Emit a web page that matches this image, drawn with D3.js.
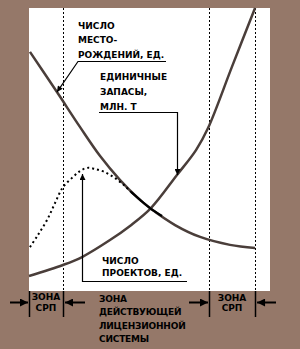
<!DOCTYPE html>
<html><head><meta charset="utf-8">
<script src="https://cdn.jsdelivr.net/npm/d3@7"></script>
<style>
html,body{margin:0;padding:0;background:#957869;}
svg{display:block;}
text{font-family:"DejaVu Sans",sans-serif;font-weight:bold;font-size:9px;fill:#000;}
</style></head>
<body>
<script>
// Data (x: 0..100 time axis, y: 0..100 relative level)
const depositsX = [0.4, 11.6, 21.2, 29.5, 37.8, 44.8, 50.2, 60.6, 71.0, 83.4, 93.8];
const depositsY = [84.5, 70.3, 57.9, 47.7, 39.2, 33.2, 29.3, 23.3, 19.1, 16.3, 15.2];
const reservesX = [0, 14.1, 22.0, 33.6, 41.9, 50.6, 61.4, 69.3, 74.3, 84.2, 93.8];
const reservesY = [5.3, 9.2, 12.0, 18.0, 23.0, 29.3, 41.0, 49.8, 57.6, 79.2, 100];
const projectsX = [0.4, 3.7, 7.5, 10.8, 14.1, 18.3, 21.2, 24.1, 27.4, 31.5, 35.7, 39.8, 42.3];
const projectsY = [15.5, 19.8, 25.1, 31.1, 36.7, 40.3, 42.4, 43.5, 43.1, 42.0, 39.9, 37.1, 35.0];
const mergeX = [42.3, 46.1, 50.2, 55.2];
const mergeY = [35.0, 32.2, 29.3, 26.5];
const zoneBounds = [0, 14.1, 74.7, 93.8];
const labelDeposits = ["ЧИСЛО", "МЕСТО-", "РОЖДЕНИЙ, ЕД."];
const labelReserves = ["ЕДИНИЧНЫЕ", "ЗАПАСЫ,", "МЛН. Т"];
const labelProjects = ["ЧИСЛО", "ПРОЕКТОВ, ЕД."];
const zoneSrp = ["ЗОНА", "СРП"];
const zoneLicense = ["ЗОНА", "ДЕЙСТВУЮЩЕЙ", "ЛИЦЕНЗИОННОЙ", "СИСТЕМЫ"];

const W = 300, H = 349;
const L = 29, R = 270, T = 8, B = 291;
const x = d3.scaleLinear().domain([0, 100]).range([L, R]);
const y = d3.scaleLinear().domain([0, 100]).range([B, T]);

const svg = d3.select("body").append("svg").attr("width", W).attr("height", H);
const defs = svg.append("defs");
function marker(id, w, h) {
  defs.append("marker").attr("id", id).attr("viewBox", "0 0 10 10")
    .attr("refX", 10).attr("refY", 5).attr("markerWidth", w).attr("markerHeight", h)
    .attr("markerUnits", "userSpaceOnUse").attr("orient", "auto")
    .append("path").attr("d", "M0,0L10,5L0,10Z").attr("fill", "#000");
}
marker("ah", 7, 6);
marker("ahb", 9, 8);

svg.append("rect").attr("x", L).attr("y", T).attr("width", R - L).attr("height", B - T).attr("fill", "#fff");

// vertical dotted zone lines
svg.selectAll(".zl").data(zoneBounds.slice(1)).enter().append("line")
  .attr("x1", d => Math.round(x(d)) + 0.5).attr("x2", d => Math.round(x(d)) + 0.5)
  .attr("y1", T).attr("y2", B).attr("stroke", "#000").attr("stroke-width", 1)
  .attr("stroke-dasharray", "2,2");

// ticks below
svg.selectAll(".tk").data(zoneBounds).enter().append("line")
  .attr("x1", d => Math.round(x(d)) + 0.5).attr("x2", d => Math.round(x(d)) + 0.5)
  .attr("y1", B).attr("y2", 317).attr("stroke", "#000").attr("stroke-width", 1.5);

const line = d3.line().x(d => x(d[0])).y(d => y(d[1])).curve(d3.curveCatmullRom.alpha(0.5));
const curveColor = "#4a3e3a";
svg.append("path").datum(d3.zip(depositsX, depositsY)).attr("d", line)
  .attr("fill", "none").attr("stroke", curveColor).attr("stroke-width", 2.5);
svg.append("path").datum(d3.zip(reservesX, reservesY)).attr("d", line)
  .attr("fill", "none").attr("stroke", curveColor).attr("stroke-width", 2.5);
svg.append("path").datum(d3.zip(projectsX, projectsY)).attr("d", line)
  .attr("fill", "none").attr("stroke", "#000").attr("stroke-width", 2)
  .attr("stroke-dasharray", "2,3");
svg.append("path").datum(d3.zip(mergeX, mergeY)).attr("d", line)
  .attr("fill", "none").attr("stroke", "#000").attr("stroke-width", 2.2);

// labels
function block(lines, x0, y0, dy, ls) {
  const t = svg.append("text").attr("x", x0).attr("y", y0).style("letter-spacing", ls + "px");
  lines.forEach((s, i) => t.append("tspan").attr("x", x0).attr("y", y0 + i * dy).text(s));
}
block(labelDeposits, 78, 28.5, 14.7, 0);
block(labelReserves, 100, 79.5, 15, 0);
block(labelProjects, 102, 263.5, 12.5, 0);

const thin = {stroke: "#000", "stroke-width": 1.2, fill: "none"};
function path(d, m) {
  const p = svg.append("path").attr("d", d);
  Object.entries(thin).forEach(([k, v]) => p.attr(k, v));
  if (m) p.attr("marker-end", "url(#" + m + ")");
}
// deposits leader
path(`M166,61.5H78L${x(depositsX[1])},${y(depositsY[1])}`, "ah");
// reserves leader
path(`M99,112.5H177.5V${y(reservesY[6])}`, "ah");
// projects leader
path(`M187,281.5H82.5V${y(projectsY[6]) + 3}`, "ah");

// bottom zone texts
function centered(lines, cx, y0, dy) {
  const t = svg.append("text").attr("text-anchor", "middle");
  lines.forEach((s, i) => t.append("tspan").attr("x", cx).attr("y", y0 + i * dy).text(s));
}
centered(zoneSrp, (x(zoneBounds[0]) + x(zoneBounds[1])) / 2, 300, 11);
centered(zoneSrp, (x(zoneBounds[2]) + x(zoneBounds[3])) / 2, 300.5, 10.5);
block(zoneLicense, 99, 302, 13.3, -0.2);

// bottom arrows
const ay = 302.5;
function arrow(x1, x2) {
  svg.append("line").attr("x1", x1).attr("x2", x2).attr("y1", ay).attr("y2", ay)
    .attr("stroke", "#000").attr("stroke-width", 2).attr("marker-end", "url(#ahb)");
}
arrow(10, x(zoneBounds[0]) - 1);
arrow(85, x(zoneBounds[1]) + 2);
arrow(189, x(zoneBounds[2]) - 1);
arrow(276, x(zoneBounds[3]) + 2);
</script>
</body></html>
